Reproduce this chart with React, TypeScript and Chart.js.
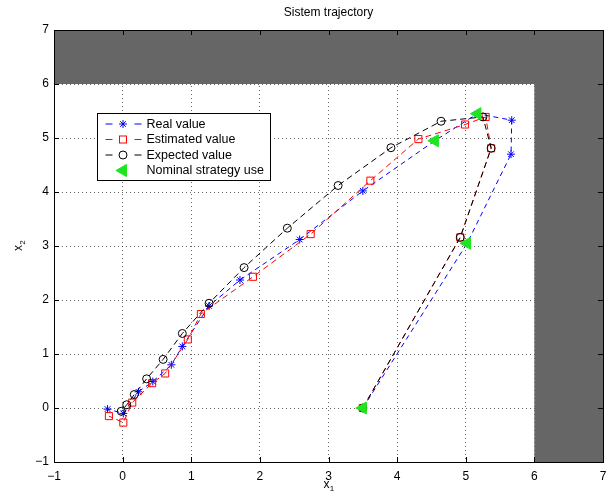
import React, { useEffect, useRef } from 'react';
import { Chart, registerables } from 'chart.js';

Chart.register(...registerables);

// Real value (blue *)
const realX = [3.5, 5.02, 5.66, 5.67, 5.17, 4.55, 3.5, 2.58, 1.71, 1.26, 0.87, 0.71, 0.44, 0.23, 0.01, -0.22];
const realY = [0, 3.05, 4.7, 5.33, 5.45, 4.95, 4.02, 3.12, 2.37, 1.89, 1.14, 0.8, 0.49, 0.3, -0.1, -0.02];
// Estimated value (red squares)
const estX = [3.5, 4.92, 5.37, 5.29, 4.99, 4.31, 3.61, 2.74, 1.9, 1.14, 0.95, 0.62, 0.43, 0.14, 0.01, -0.2];
const estY = [0, 3.16, 4.81, 5.39, 5.25, 4.98, 4.21, 3.22, 2.43, 1.74, 1.27, 0.64, 0.46, 0.1, -0.27, -0.15];
// Expected value (black circles)
const expX = [3.5, 4.92, 5.37, 5.25, 4.64, 3.91, 3.14, 2.4, 1.77, 1.26, 0.87, 0.59, 0.35, 0.17, 0.06, -0.02];
const expY = [0, 3.16, 4.81, 5.39, 5.31, 4.82, 4.12, 3.33, 2.6, 1.94, 1.38, 0.9, 0.54, 0.25, 0.06, -0.06];
// Nominal strategy use (green triangles)
const nomX = [3.5, 5.02, 5.17, 4.55];
const nomY = [0, 3.05, 5.45, 4.95];

const seriesLabels = ['Real value', 'Estimated value', 'Expected value', 'Nominal strategy use'];
const axisTicks = [-1, 0, 1, 2, 3, 4, 5, 6, 7];
const obstacleEdgeX = 6;
const obstacleEdgeY = 6;
const chartTitle = 'Sistem trajectory';

const FONT = '"Liberation Sans", Arial, Helvetica, sans-serif';
const BLUE = '#0000ff';
const RED = '#ff0000';
const BLACK = '#000000';
const GREEN = '#1ee61e';

const pts = (xs: number[], ys: number[]) => xs.map((x, i) => ({ x, y: ys[i] }));

function drawMarker(ctx: CanvasRenderingContext2D, kind: string, x: number, y: number) {
  ctx.save();
  ctx.lineWidth = 1;
  ctx.setLineDash([]);
  if (kind === 'star') {
    ctx.strokeStyle = BLUE;
    const r = 4;
    ctx.beginPath();
    ctx.moveTo(x - r, y); ctx.lineTo(x + r, y);
    ctx.moveTo(x, y - r); ctx.lineTo(x, y + r);
    const d = r * Math.SQRT1_2;
    ctx.moveTo(x - d, y - d); ctx.lineTo(x + d, y + d);
    ctx.moveTo(x - d, y + d); ctx.lineTo(x + d, y - d);
    ctx.stroke();
  } else if (kind === 'rect') {
    ctx.strokeStyle = RED;
    const s = 3.5;
    ctx.strokeRect(x - s, y - s, 2 * s, 2 * s);
  } else if (kind === 'circle') {
    ctx.strokeStyle = BLACK;
    ctx.beginPath();
    ctx.arc(x, y, 4, 0, Math.PI * 2);
    ctx.stroke();
  } else if (kind === 'tri') {
    ctx.fillStyle = GREEN;
    ctx.strokeStyle = GREEN;
    const r = 7;
    ctx.beginPath();
    ctx.moveTo(x - r, y);
    ctx.lineTo(x + r / 2, y - r * Math.sqrt(3) / 2);
    ctx.lineTo(x + r / 2, y + r * Math.sqrt(3) / 2);
    ctx.closePath();
    ctx.fill();
    ctx.stroke();
  }
  ctx.restore();
}

const decorPlugin = {
  id: 'decor',
  beforeDatasetsDraw(chart: any) {
    const { ctx, chartArea: a, scales } = chart;
    const x6 = scales.x.getPixelForValue(obstacleEdgeX);
    const y6 = scales.y.getPixelForValue(obstacleEdgeY);
    ctx.save();
    ctx.fillStyle = '#666666';
    ctx.fillRect(a.left, a.top, a.right - a.left, y6 - a.top);
    ctx.fillRect(x6, y6, a.right - x6, a.bottom - y6);
    ctx.restore();
  },
  afterDatasetsDraw(chart: any) {
    const { ctx, chartArea: a, scales } = chart;
    ctx.save();
    // inward tick marks
    ctx.strokeStyle = '#000';
    ctx.lineWidth = 1;
    ctx.beginPath();
    axisTicks.forEach((v) => {
      const px = Math.round(scales.x.getPixelForValue(v)) + 0.5;
      ctx.moveTo(px, a.bottom); ctx.lineTo(px, a.bottom - 5);
      ctx.moveTo(px, a.top); ctx.lineTo(px, a.top + 5);
      const py = Math.round(scales.y.getPixelForValue(v)) + 0.5;
      ctx.moveTo(a.left, py); ctx.lineTo(a.left + 5, py);
      ctx.moveTo(a.right, py); ctx.lineTo(a.right - 5, py);
    });
    ctx.stroke();
    // box
    ctx.strokeRect(Math.round(a.left) + 0.5, Math.round(a.top) + 0.5, Math.round(a.right - a.left), Math.round(a.bottom - a.top));

    // legend
    const bx = a.left + 43.5;
    const by = a.top + 83.5;
    const bw = 173;
    const bh = 67;
    ctx.fillStyle = '#fff';
    ctx.fillRect(bx, by, bw, bh);
    ctx.strokeStyle = '#000';
    ctx.strokeRect(bx, by, bw, bh);
    const colors = [BLUE, RED, BLACK, null];
    const kinds = ['star', 'rect', 'circle', 'tri'];
    ctx.font = `12.5px ${FONT}`;
    ctx.textBaseline = 'middle';
    ctx.textAlign = 'left';
    seriesLabels.forEach((label, i) => {
      const ry = by + 10.5 + i * 15.5;
      const mx = bx + 25.5;
      const c = colors[i];
      if (c) {
        ctx.strokeStyle = c;
        ctx.beginPath();
        ctx.moveTo(bx + 8, ry); ctx.lineTo(bx + 15, ry);
        ctx.moveTo(bx + 37, ry); ctx.lineTo(bx + 44, ry);
        ctx.stroke();
      }
      drawMarker(ctx, kinds[i], mx, ry);
      ctx.fillStyle = '#000';
      ctx.fillText(label, bx + 49, ry + 0.5);
    });
    ctx.restore();
  },
  afterDraw(chart: any) {
    const { ctx, chartArea: a } = chart;
    const cx = (a.left + a.right) / 2;
    ctx.save();
    ctx.fillStyle = '#000';
    ctx.textAlign = 'center';
    ctx.textBaseline = 'middle';
    ctx.font = `12px ${FONT}`;
    ctx.fillText(chartTitle, cx, 13);
    // x label
    ctx.font = `12px ${FONT}`;
    ctx.fillText('x', cx - 2, 485);
    ctx.font = `8px ${FONT}`;
    ctx.fillText('1', cx + 3.5, 489);
    // y label
    ctx.translate(19, (a.top + a.bottom) / 2);
    ctx.rotate(-Math.PI / 2);
    ctx.font = `12px ${FONT}`;
    ctx.fillText('x', -2, 0);
    ctx.font = `8px ${FONT}`;
    ctx.fillText('2', 3.5, 4);
    ctx.restore();
  },
};

export default function App() {
  const ref = useRef<HTMLCanvasElement>(null);
  useEffect(() => {
    if (!ref.current) return;
    const lineDs = (label: string, xs: number[], ys: number[], color: string, style: any, radius: number, dash: number[], order: number) => ({
      label,
      data: pts(xs, ys),
      showLine: true,
      borderColor: color,
      borderWidth: 1,
      borderDash: dash,
      backgroundColor: 'rgba(0,0,0,0)',
      pointStyle: style,
      pointRadius: radius,
      pointBorderColor: color,
      pointBorderWidth: 1,
      pointBackgroundColor: 'rgba(0,0,0,0)',
      fill: false,
      tension: 0,
      order,
    });
    const tickCallback = (v: any) => String(v).replace('-', '\u2212');
    const chart = new Chart(ref.current, {
      type: 'scatter',
      data: {
        datasets: [
          lineDs(seriesLabels[0], realX, realY, BLUE, 'star', 4, [5, 4], 3),
          lineDs(seriesLabels[1], estX, estY, RED, 'rect', 5, [6, 4], 2),
          lineDs(seriesLabels[2], expX, expY, BLACK, 'circle', 4, [6, 4], 1),
          {
            label: seriesLabels[3],
            data: pts(nomX, nomY),
            showLine: false,
            pointStyle: 'triangle',
            pointRotation: -90,
            pointRadius: 7,
            pointBackgroundColor: GREEN,
            pointBorderColor: GREEN,
            pointBorderWidth: 1,
            order: 0,
          } as any,
        ],
      },
      options: {
        animation: false,
        responsive: false,
        events: [],
        layout: { padding: { top: 30, right: 7, left: 0, bottom: 0 } },
        plugins: { legend: { display: false }, tooltip: { enabled: false }, title: { display: false } },
        scales: {
          x: {
            type: 'linear',
            min: -1,
            max: 7,
            afterFit: (s: any) => { s.height = 31; s.paddingLeft = 0; s.paddingRight = 0; },
            ticks: {
              stepSize: 1,
              padding: 7,
              color: '#000',
              font: { family: FONT, size: 12 },
              callback: tickCallback,
            },
            grid: { color: 'rgba(0,0,0,0.6)', drawTicks: false, lineWidth: 1 },
            border: { display: false, dash: [1, 3] },
          },
          y: {
            type: 'linear',
            min: -1,
            max: 7,
            afterFit: (s: any) => { s.width = 54; s.paddingTop = 0; s.paddingBottom = 0; },
            ticks: {
              stepSize: 1,
              padding: 5,
              color: '#000',
              font: { family: FONT, size: 12 },
              callback: tickCallback,
            },
            grid: { color: 'rgba(0,0,0,0.6)', drawTicks: false, lineWidth: 1 },
            border: { display: false, dash: [1, 3] },
          },
        },
      },
      plugins: [decorPlugin],
    } as any);
    return () => chart.destroy();
  }, []);
  return (
    <div style={{ position: 'absolute', left: 0, top: 0, width: 611, height: 493, background: '#fff' }}>
      <canvas ref={ref} width={611} height={493} style={{ display: 'block' }} />
    </div>
  );
}
